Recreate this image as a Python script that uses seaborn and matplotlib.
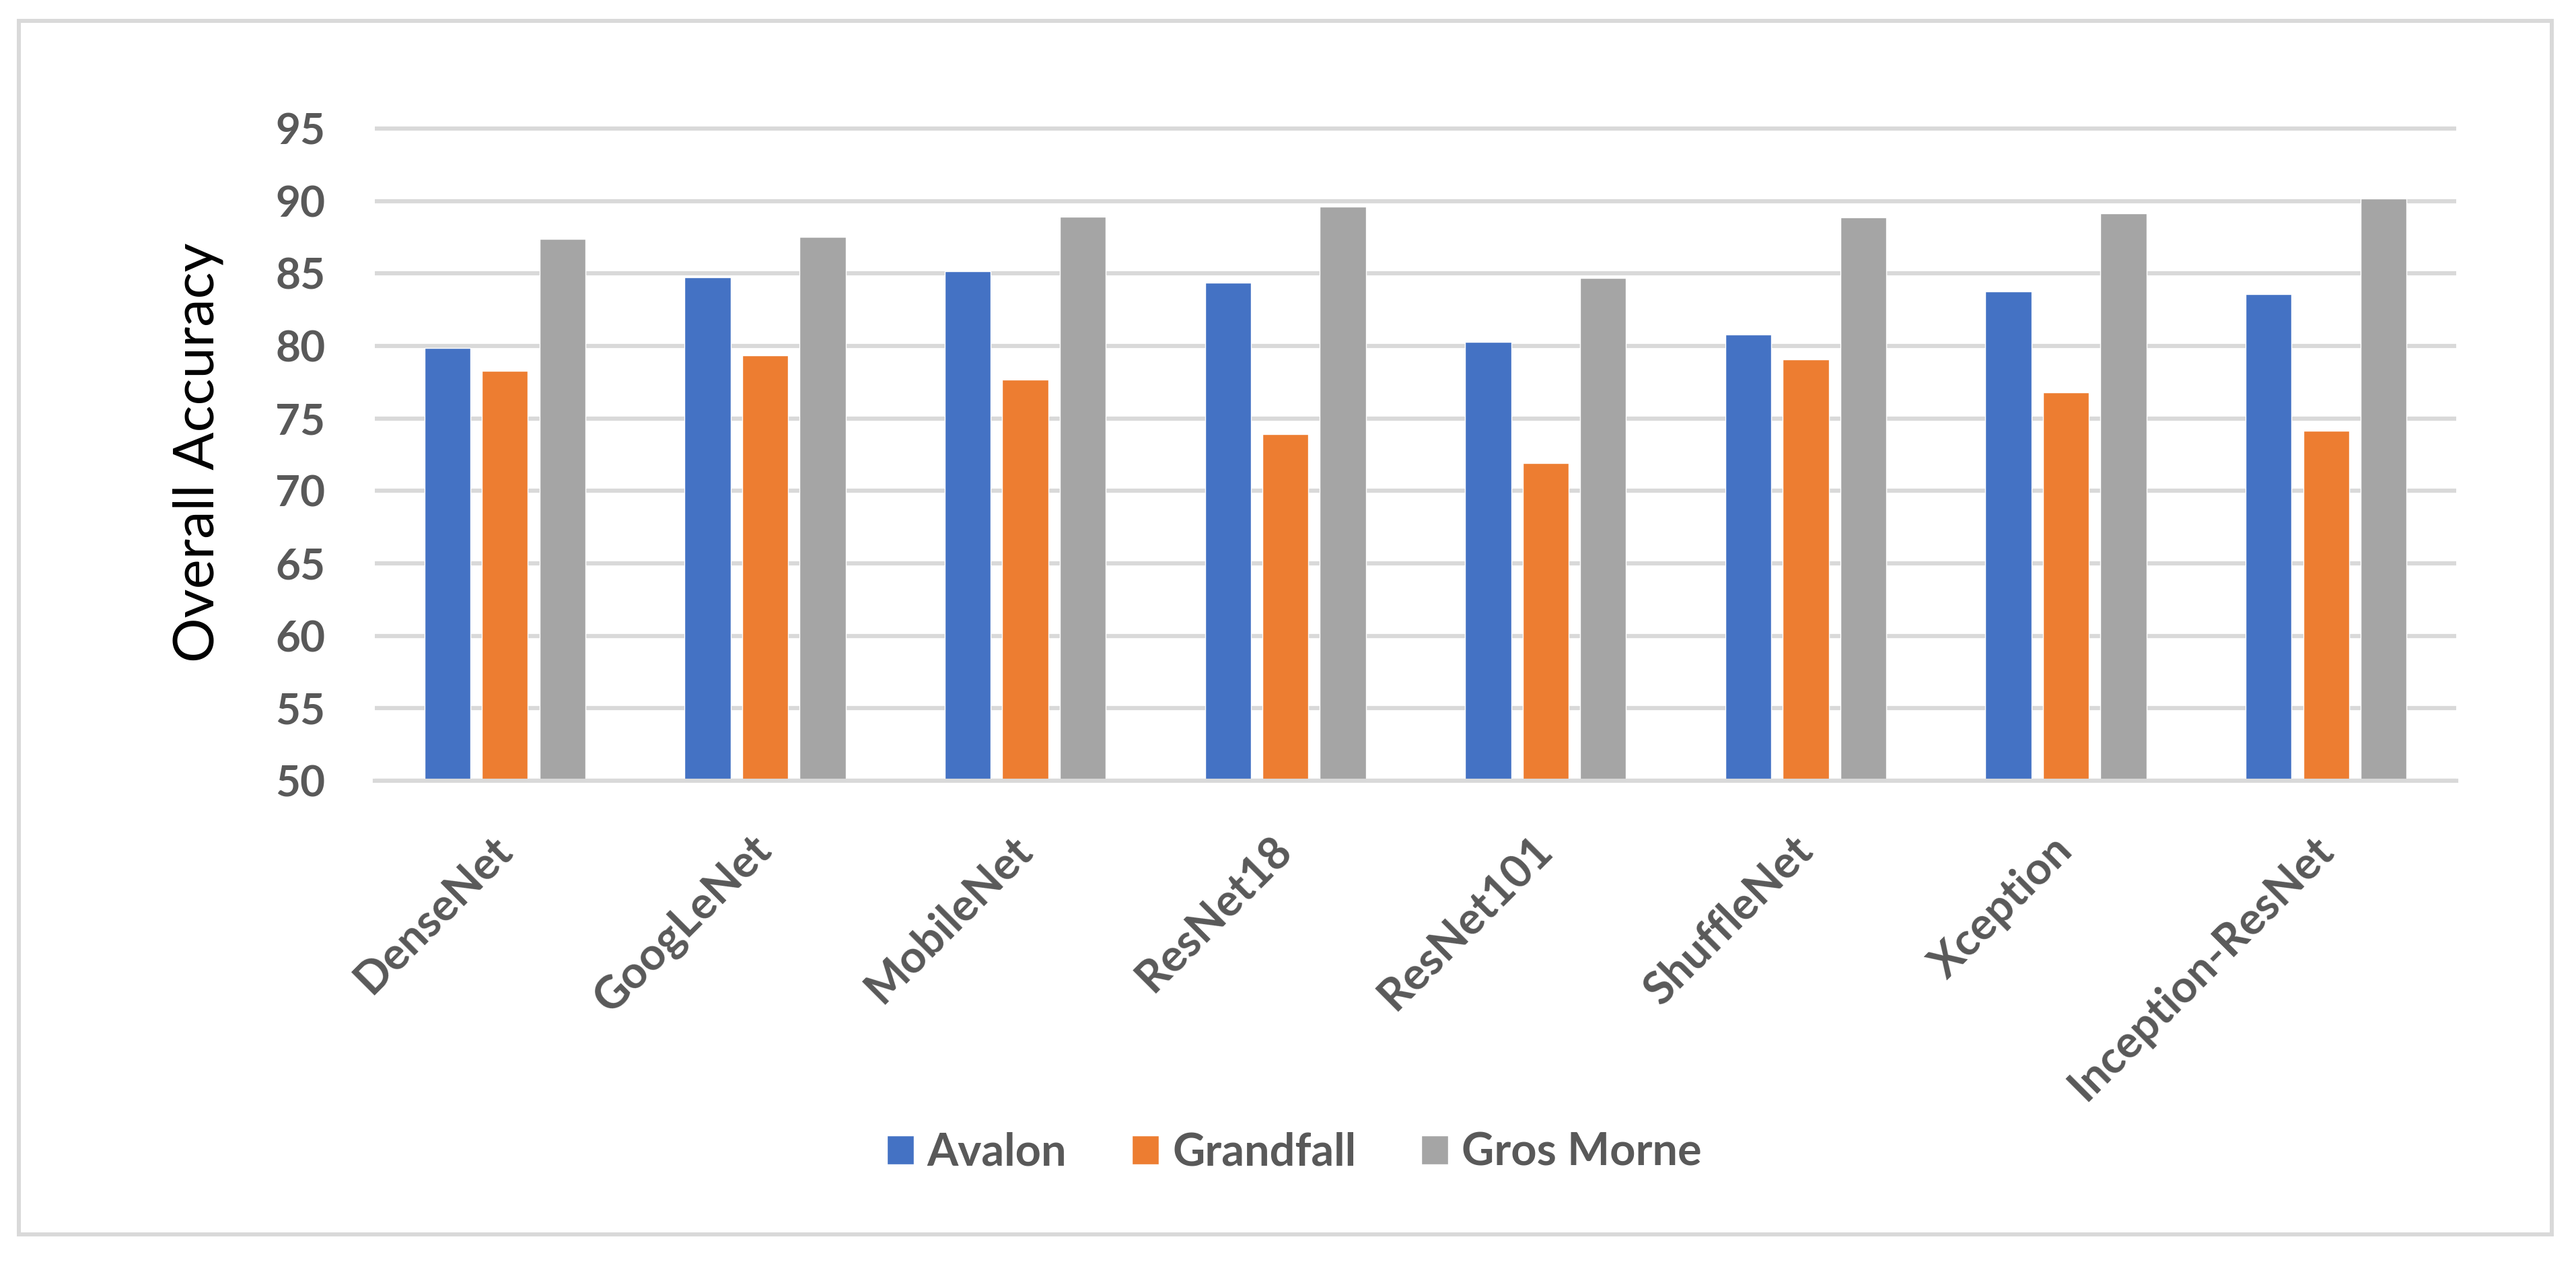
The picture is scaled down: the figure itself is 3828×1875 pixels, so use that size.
import matplotlib
matplotlib.use("Agg")
import matplotlib.pyplot as plt
import seaborn as sns
import pandas as pd
from matplotlib.patches import Rectangle

# ---- data ----
models = ["DenseNet", "GoogLeNet", "MobileNet", "ResNet18", "ResNet101",
          "ShuffleNet", "Xception", "Inception-ResNet"]
regions = ["Avalon", "Grandfall", "Gros Morne"]
avalon = [79.85, 84.74, 85.15, 84.37, 80.26, 80.81, 83.78, 83.56]
grandfall = [78.30, 79.37, 77.70, 73.90, 71.93, 79.07, 76.81, 74.15]
gros_morne = [87.40, 87.52, 88.90, 89.63, 84.67, 88.89, 89.15, 90.15]
yticks = [50, 55, 60, 65, 70, 75, 80, 85, 90, 95]
ylabel = "Overall Accuracy"

colors = ["#4472C4", "#ED7D31", "#A5A5A5"]
text_col = "#595959"
grid_col = "#D9D9D9"

rows = []
for reg, vals in zip(regions, [avalon, grandfall, gros_morne]):
    for m, v in zip(models, vals):
        rows.append({"Model": m, "Region": reg, "Accuracy": v})
df = pd.DataFrame(rows)

sns.set_style("white")
plt.rcParams["font.family"] = ["Lato", "DejaVu Sans"]

W, H = 3828, 1875
fig = plt.figure(figsize=(W / 100, H / 100), dpi=100)
ax_left, ax_right = 557, 3650
ax_bot, ax_top = 1160, 184.5
ax = fig.add_axes([ax_left / W, 1 - ax_bot / H, (ax_right - ax_left) / W, (ax_bot - ax_top) / H])

sns.barplot(data=df, x="Model", y="Accuracy", hue="Region", order=models,
            hue_order=regions, palette=colors, saturation=1, width=0.663,
            gap=0.2, ax=ax, errorbar=None)

ax.set_xlim(-0.5, len(models) - 0.5)
ax.set_ylim(50, 95.3)
ax.set_yticks(yticks)
ax.set_yticklabels([str(t) for t in yticks])
ax.set_axisbelow(True)
ax.grid(axis="y", color=grid_col, linewidth=4.5)
ax.grid(axis="x", visible=False)
for s in ["top", "left", "right"]:
    ax.spines[s].set_visible(False)
ax.spines["bottom"].set_color(grid_col)
ax.spines["bottom"].set_linewidth(4.5)

ax.tick_params(axis="y", length=0, pad=53, labelsize=46, labelcolor=text_col)
ax.tick_params(axis="x", length=0, pad=67, labelsize=48, labelcolor=text_col, rotation=45)
for lab in ax.get_yticklabels():
    lab.set_fontweight("bold")
for lab in ax.get_xticklabels():
    lab.set_fontweight("bold")
    lab.set_ha("right")
    lab.set_va("center")
    lab.set_rotation_mode("anchor")

ax.set_xlabel("")
ax.set_ylabel(ylabel, fontsize=60, color="black", va="center")
ax.yaxis.set_label_coords(-0.085, 0.5)

handles, labels = ax.get_legend_handles_labels()
ax.get_legend().remove()
leg = fig.legend(handles, labels, loc="center", bbox_to_anchor=(0.5024, 0.0864),
                 ncol=3, frameon=False, handlelength=0.6, handleheight=0.63,
                 handletextpad=0.3, columnspacing=1.45,
                 prop={"size": 48, "weight": "bold"})
for t in leg.get_texts():
    t.set_color(text_col)

fig.patches.append(Rectangle((28 / W, 1 - 1834 / H), (3792 - 28) / W, (1834 - 31) / H,
                             transform=fig.transFigure, fill=False,
                             edgecolor=grid_col, linewidth=4.3))

fig.savefig("out.png", dpi=100)
